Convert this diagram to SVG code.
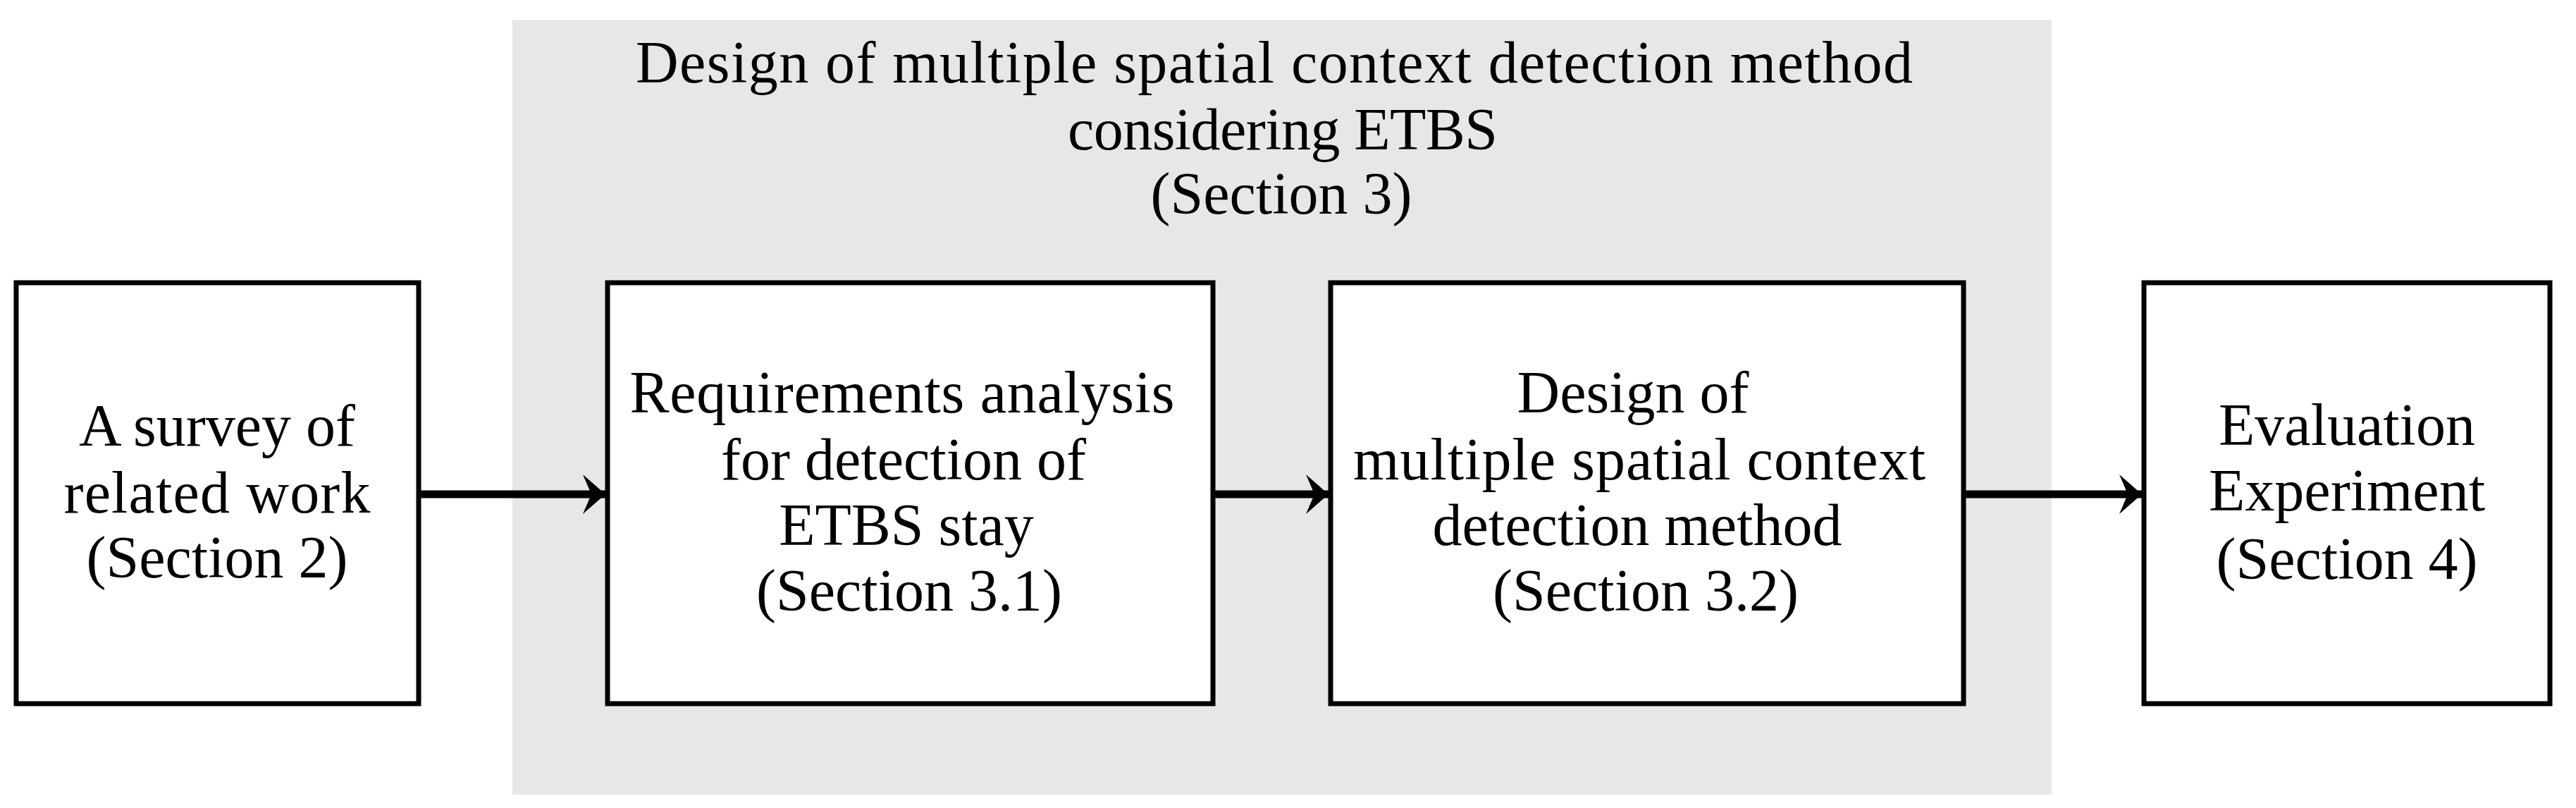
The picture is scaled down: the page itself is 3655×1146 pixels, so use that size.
<svg xmlns="http://www.w3.org/2000/svg" width="3655" height="1146" viewBox="0 0 3655 1146">
<style>
.box{fill:#ffffff;stroke:#000000;stroke-width:7}
.t{font-family:"Liberation Serif","Times New Roman",serif;font-size:84px;fill:#000000;text-anchor:middle}
.ln{stroke:#000000;stroke-width:11;fill:none}
</style>
<defs>
<marker id="ah" markerUnits="userSpaceOnUse" markerWidth="40" markerHeight="60" viewBox="-34 -30 36 60" refX="0" refY="0" orient="auto">
<path d="M0,0 L-32,-28 L-20,0 L-32,28 Z" fill="#000000"/>
</marker>
</defs>
<rect width="3655" height="1146" fill="#ffffff"/>
<g id="group-section3">
<rect x="727" y="28" width="2184" height="1099" fill="#e7e7e7"/>
<text class="t" x="1808" y="117" textLength="1812" lengthAdjust="spacing">Design of  multiple spatial context detection method</text>
<text class="t" x="1820" y="212" textLength="610" lengthAdjust="spacing">considering ETBS</text>
<text class="t" x="1818" y="303">(Section 3)</text>
</g>
<g id="connectors">
<line class="ln" x1="594" y1="701" x2="859" y2="701" marker-end="url(#ah)"/>
<line class="ln" x1="1721" y1="701" x2="1885" y2="701" marker-end="url(#ah)"/>
<line class="ln" x1="2786" y1="701" x2="3039" y2="701" marker-end="url(#ah)"/>
</g>
<g id="node-survey">
<rect class="box" x="23" y="401" width="571" height="597"/>
<text class="t" x="308" y="632">A survey  of</text>
<text class="t" x="308" y="727" textLength="435" lengthAdjust="spacing">related work</text>
<text class="t" x="308" y="819">(Section 2)</text>
</g>
<g id="node-requirements">
<rect class="box" x="862" y="401" width="859" height="597"/>
<text class="t" x="1280" y="585" textLength="773" lengthAdjust="spacing">Requirements analysis</text>
<text class="t" x="1282" y="680">for detection of</text>
<text class="t" x="1286" y="773">ETBS stay</text>
<text class="t" x="1290" y="866">(Section 3.1)</text>
</g>
<g id="node-design">
<rect class="box" x="1888" y="401" width="898" height="597"/>
<text class="t" x="2317" y="585">Design of</text>
<text class="t" x="2326" y="680" textLength="812" lengthAdjust="spacing">multiple spatial context</text>
<text class="t" x="2323" y="773">detection method</text>
<text class="t" x="2335" y="866">(Section 3.2)</text>
</g>
<g id="node-evaluation">
<rect class="box" x="3042" y="401" width="576" height="597"/>
<text class="t" x="3330" y="631">Evaluation</text>
<text class="t" x="3330" y="724" textLength="392" lengthAdjust="spacing">Experiment</text>
<text class="t" x="3330" y="821">(Section 4)</text>
</g>
</svg>
